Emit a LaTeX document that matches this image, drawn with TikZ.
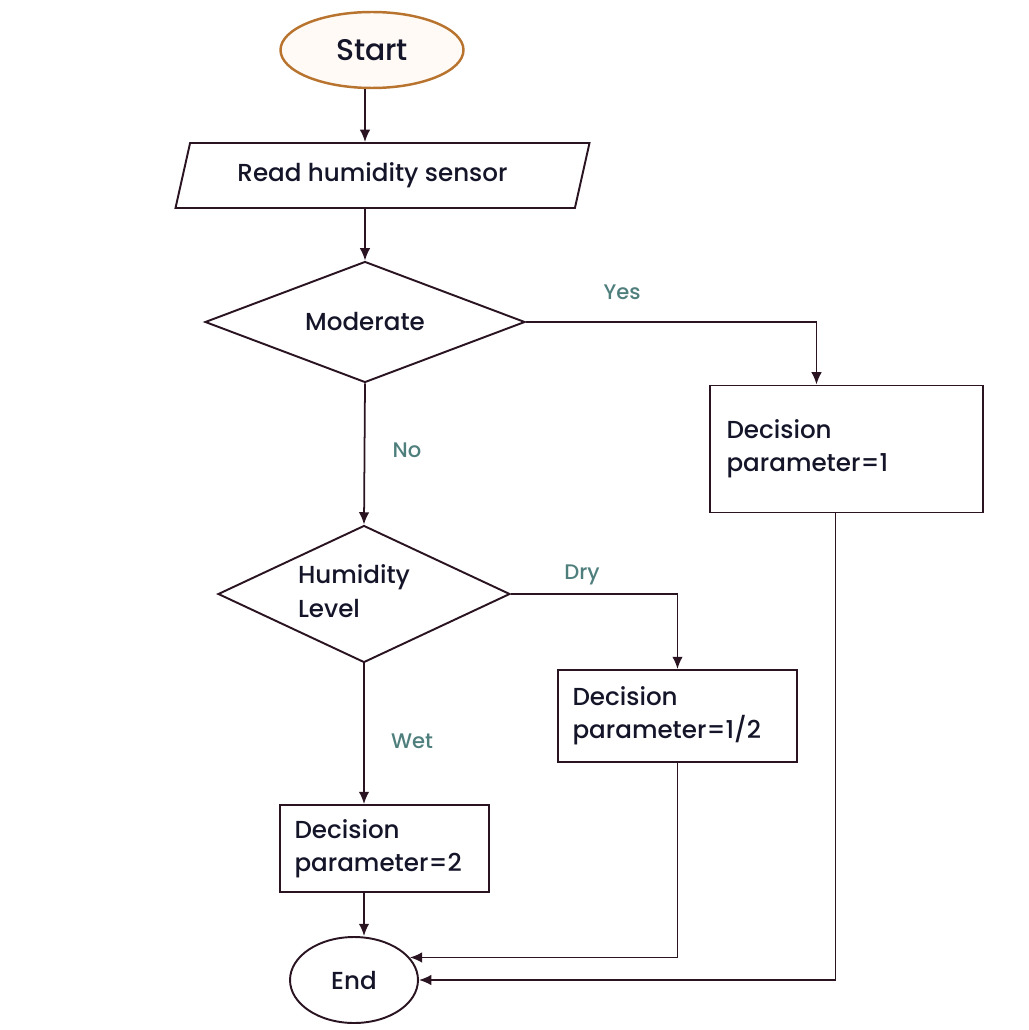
\documentclass[tikz,border=0pt]{standalone}
\usepackage{fontspec}
\setmainfont{Poppins}[UprightFont=* Medium]
\usetikzlibrary{shapes.geometric,arrows.meta}
\definecolor{linec}{HTML}{2A1422}
\definecolor{startc}{HTML}{B8742F}
\definecolor{labelc}{HTML}{4F7F7D}
\definecolor{textc}{HTML}{15152A}

\begin{document}
\begin{tikzpicture}[x=0.02cm, y=-0.02cm, >={Latex[length=7pt,width=6pt]},
	box/.style={draw=linec, line width=1.1pt, rectangle, align=left, text=textc,
		font=\fontsize{14}{19}\selectfont, inner sep=0pt},
	decide/.style={draw=linec, line width=1.1pt, diamond, text=textc, align=left,
		font=\fontsize{14}{19}\selectfont, inner sep=0pt},
	flow/.style={draw=linec, line width=1pt, ->},
	answer/.style={text=labelc, font=\fontsize{12}{14}\selectfont}]
	\useasboundingbox (0, 0) rectangle (1028, 1030);

	\node[ellipse, draw=startc, line width=1.4pt, fill=orange!4, text=textc,
		minimum width=3.66cm, minimum height=1.52cm,
		font=\fontsize{17}{20}\selectfont] (start) at (372, 50) {Start};
	\node[trapezium, trapezium left angle=75, trapezium right angle=105,
		trapezium stretches=true, draw=linec, line width=1.1pt, text=textc,
		minimum width=8.3cm, minimum height=1.3cm,
		font=\fontsize{14}{16}\selectfont] (read) at (382.5, 175.5) {\hspace*{-0.4cm}Read humidity sensor};
	\node[decide, aspect=2.6, minimum width=6.4cm, minimum height=2.42cm] (moderate) at (365, 322) {Moderate};
	\node[box, minimum width=5.46cm, minimum height=2.54cm, text width=4.8cm] (param1) at (846.5, 449) {Decision\\parameter=1};
	\node[decide, aspect=2.1, minimum width=5.84cm, minimum height=2.74cm] (level) at (364, 594) {\hspace*{-0.4cm}\begin{tabular}{@{}l@{}}Humidity\\Level\end{tabular}};
	\node[box, minimum width=4.78cm, minimum height=1.84cm, text width=4.2cm] (paramhalf) at (677.5, 716) {Decision\\parameter=1/2};
	\node[box, minimum width=4.18cm, minimum height=1.74cm, text width=3.6cm] (param2) at (384.5, 848.5) {Decision\\parameter=2};
	\node[ellipse, draw=linec, line width=1.1pt, text=textc,
		minimum width=2.56cm, minimum height=1.72cm,
		font=\fontsize{14}{16}\selectfont] (end) at (354, 980) {End};

	\draw[flow] (start.south -| moderate.north) -- (moderate.north |- read.north);
	\draw[flow] (moderate.north |- read.south) -- (moderate.north);
	\draw[flow] (moderate.east) -| ([xshift=-0.6cm]param1.north);
	\node[answer] at (622, 292) {Yes};
	\draw[flow] (moderate.south) -- (level.north);
	\node[answer] at (407, 450) {No};
	\draw[flow] (level.east) -| (paramhalf.north);
	\node[answer] at (582, 575) {Dry};
	\draw[flow] (level.south) -- (level.south |- param2.north);
	\node[answer] at (412, 741) {Wet};
	\draw[flow] (level.south |- param2.south) -- (level.south |- end.north);
	\draw[flow] (paramhalf.south) |- (end.22);
	\draw[flow] ([xshift=-0.22cm]param1.south) |- (end.east);
\end{tikzpicture}
\end{document}
